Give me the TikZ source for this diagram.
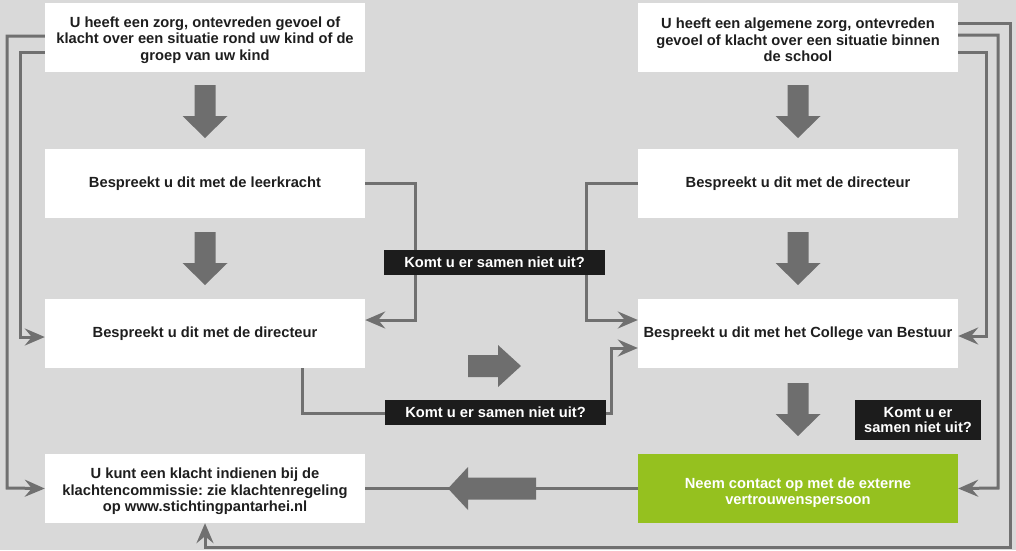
\documentclass[tikz,border=0pt]{standalone}
\usepackage{fontspec}
\setmainfont{Liberation Sans}
\usetikzlibrary{arrows.meta}
\frenchspacing
\definecolor{bgc}{HTML}{D9D9D9}
\definecolor{linec}{HTML}{707070}
\definecolor{blkc}{HTML}{6E6E6E}
\definecolor{txtc}{HTML}{1E1E1E}
\definecolor{labc}{HTML}{1C1C1C}
\definecolor{grc}{HTML}{95C11F}
\newcommand\TopStrut[1]{\rule{0pt}{#1}}
\begin{document}
\begin{tikzpicture}[x=1pt,y=-1pt,
  txt/.style={font=\fontsize{14.7}{16.5}\selectfont\bfseries\frenchspacing, align=center, inner sep=0pt},
  box/.style={txt, fill=white, text=txtc, minimum width=320pt, minimum height=69pt},
  greenbox/.style={txt, font=\fontsize{14.7}{16}\selectfont\bfseries\frenchspacing, fill=grc, text=white, minimum width=320pt, minimum height=69pt},
  lab/.style={txt, font=\fontsize{14.7}{15.5}\selectfont\bfseries\frenchspacing, fill=labc, text=white, minimum height=25pt},
  conn/.style={draw=linec, line width=3pt, -{Stealth[length=20pt,width=17pt,inset=7pt]}},
  plainline/.style={draw=linec, line width=3pt},
  blk/.style={fill=blkc},
  downarr/.pic={\fill[blk] (-10.5,0) -- (10.5,0) -- (10.5,31) -- (22.5,31) -- (0,53) -- (-22.5,31) -- (-10.5,31) -- cycle;},
  rightarr/.pic={\fill[blk] (0,-11) -- (30,-11) -- (30,-21) -- (53,0) -- (30,21) -- (30,11) -- (0,11) -- cycle;},
  leftarr/.pic={\fill[blk] (0,0) -- (20,-21.5) -- (20,-11) -- (88,-11) -- (88,11) -- (20,11) -- (20,21.5) -- cycle;}
]
\fill[bgc] (0,0) rectangle (1016,550);

% boxes
\node[box] (b1L) at (205,37.5) {\TopStrut{16pt}U heeft een zorg, ontevreden gevoel of\\klacht over een situatie rond uw kind of de\\groep van uw kind};
\node[box] (b2L) at (205,183.5) {Bespreekt u dit met de leerkracht};
\node[box] (b3L) at (205,333.5) {Bespreekt u dit met de directeur};
\node[box] (b4L) at (205,488.5) {\TopStrut{16.5pt}U kunt een klacht indienen bij de\\klachtencommissie: zie klachtenregeling\\op www.stichtingpantarhei.nl};
\node[box] (b1R) at (798,37.5) {\TopStrut{16pt}U heeft een algemene zorg, ontevreden\\gevoel of klacht over een situatie binnen\\de school};
\node[box] (b2R) at (798,183.5) {Bespreekt u dit met de directeur};
\node[box] (b3R) at (798,333.5) {Bespreekt u dit met het College van Bestuur};
\node[greenbox] (gr) at (798,488.5) {\TopStrut{19pt}Neem contact op met de externe\\vertrouwenspersoon};

% connectors
\draw[conn] ([yshift=1.5]b1L.west) -| (7,488) -- (b4L.west);
\draw[conn] ([yshift=-14.5]b1L.west) -| (20,337) -- ([yshift=-3.5]b3L.west);
\draw[conn] (b2L.east) -| (415,320) -- ([yshift=13.5]b3L.east);
\draw[conn] (b2R.west) -| (586,320) -- ([yshift=13.5]b3R.west);
\draw[conn] ([xshift=97]b3L.south) |- (611,413) |- ([yshift=-14.5]b3R.west);
\draw[conn] ([yshift=14.5]b1R.east) -| (1010,547) -| (b4L.south);
\draw[conn] ([yshift=2.5]b1R.east) -| (998,488) -- (gr.east);
\draw[conn] ([yshift=-14.5]b1R.east) -| (986,336) -- ([yshift=-2.5]b3R.east);
\draw[plainline] (gr.west) -- (b4L.east);

% block arrows
\pic at (205,85) {downarr};
\pic at (205,232) {downarr};
\pic at (798,85) {downarr};
\pic at (798,232) {downarr};
\pic at (798,383) {downarr};
\pic at (468,366) {rightarr};
\pic at (448,488.5) {leftarr};

% labels
\node[lab, minimum width=221pt] (l1) at (494.5,262.5) {Komt u er samen niet uit?};
\node[lab, minimum width=221pt] (l2) at (495.5,412.5) {Komt u er samen niet uit?};
\node[lab, minimum width=126pt, minimum height=40pt] (l3) at (918,420) {Komt u er\\samen niet uit?};
\end{tikzpicture}
\end{document}
